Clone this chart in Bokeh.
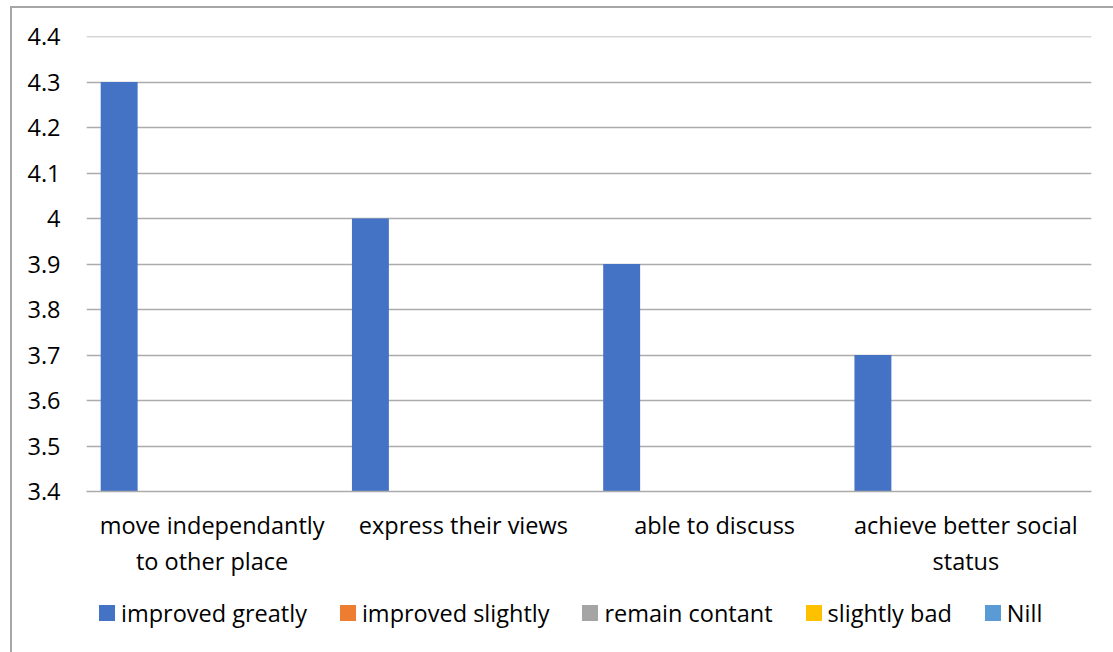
from bokeh.plotting import figure
from bokeh.models import (Range1d, FixedTicker, ColumnDataSource, LinearAxis, Span, Div)
from bokeh.layouts import column
from bokeh.transform import dodge
from bokeh.embed import file_html
from bokeh.resources import INLINE

# Survey categories and how each one changed
categories = [
    "move independantly to other place",
    "express their views",
    "able to discuss",
    "achieve better social status",
]
label_line1 = ["move independantly", "express their views", "able to discuss", "achieve better social"]
label_line2 = ["to other place", "", "", "status"]
series_names = ["improved greatly", "improved slightly", "remain contant", "slightly bad", "Nill"]
improved_greatly = [4.3, 4.0, 3.9, 3.7]
improved_slightly = [0, 0, 0, 0]
remain_contant = [0, 0, 0, 0]
slightly_bad = [0, 0, 0, 0]
nill = [0, 0, 0, 0]
series_colors = ["#4472C4", "#ED7D31", "#A5A5A5", "#FFC000", "#5B9BD5"]

y_ticks = [3.4, 3.5, 3.6, 3.7, 3.8, 3.9, 4.0, 4.1, 4.2, 4.3, 4.4]
y_tick_labels = ["3.4", "3.5", "3.6", "3.7", "3.8", "3.9", "4", "4.1", "4.2", "4.3", "4.4"]

FONT = "Open Sans"
FONT_SIZE = "23.5px"
GRID = "#ABABAB"

# category slots sit at 0.5, 1.5, ... on a 0..n axis
x_centers = [i + 0.5 for i in range(len(categories))]
data = dict(x=x_centers)
keys = ["s0", "s1", "s2", "s3", "s4"]
for k, vals in zip(keys, [improved_greatly, improved_slightly, remain_contant, slightly_bad, nill]):
    data[k] = vals
source = ColumnDataSource(data)

p = figure(
    frame_width=1005, frame_height=455,
    x_range=Range1d(0, len(categories)),
    y_range=Range1d(3.4, 4.4),
    output_backend="svg", toolbar_location=None,
    min_border_left=74, min_border_top=28, min_border_right=20, min_border_bottom=100,
)
p.outline_line_color = None

offsets = [-0.37, -0.185, 0.0, 0.185, 0.37]
for k, off, col in zip(keys, offsets, series_colors):
    p.vbar(x=dodge("x", off), top=k, bottom=0, width=0.147,
           source=source, fill_color=col, line_color=None)

# y axis
p.yaxis.ticker = FixedTicker(ticks=y_ticks)
p.yaxis.major_label_overrides = dict(zip(y_ticks, y_tick_labels))
p.yaxis.axis_line_color = None
p.yaxis.major_tick_line_color = None
p.yaxis.major_tick_out = 0
p.yaxis.major_tick_in = 0
p.yaxis.minor_tick_line_color = None
p.yaxis.major_label_standoff = 26
p.yaxis.major_label_text_font = FONT
p.yaxis.major_label_text_font_size = FONT_SIZE
p.yaxis.major_label_text_color = "#000000"

# x axis: first line of each category label
p.xaxis.ticker = FixedTicker(ticks=x_centers)
p.xaxis.major_label_overrides = dict(zip(x_centers, label_line1))
p.xaxis.axis_line_color = GRID
p.xaxis.axis_line_width = 1.5
p.xaxis.major_tick_line_color = None
p.xaxis.major_tick_out = 0
p.xaxis.major_tick_in = 0
p.xaxis.minor_tick_line_color = None
p.xaxis.major_label_standoff = 17
p.xaxis.major_label_text_font = FONT
p.xaxis.major_label_text_font_size = FONT_SIZE
p.xaxis.major_label_text_color = "#000000"

# second line of the wrapped category labels
axis2 = LinearAxis(
    ticker=FixedTicker(ticks=x_centers),
    major_label_overrides=dict(zip(x_centers, label_line2)),
    axis_line_color=None, major_tick_line_color=None, minor_tick_line_color=None,
    major_tick_out=0, major_tick_in=0,
    major_label_standoff=1, major_label_text_font=FONT,
    major_label_text_font_size=FONT_SIZE, major_label_text_color="#000000",
)
p.add_layout(axis2, "below")

p.xgrid.grid_line_color = None
p.ygrid.ticker = FixedTicker(ticks=y_ticks)
p.ygrid.grid_line_color = GRID
p.ygrid.grid_line_width = 1.5
# top gridline at the range end
p.add_layout(Span(location=y_ticks[-1], dimension="width", line_color=GRID, line_width=1.5))

# series key laid out in one row under the chart
key_items = "".join(
    f'<span style="display:inline-flex;align-items:center;margin-right:33px;">'
    f'<span style="display:inline-block;width:16px;height:16px;background:{c};margin-right:6px;"></span>'
    f'{name}</span>'
    for name, c in zip(series_names, series_colors)
)
key = Div(
    text=key_items, width=1103, height=59,
    styles={"font-family": FONT, "font-size": FONT_SIZE, "color": "#000000",
            "line-height": "32px", "padding-left": "82px", "white-space": "nowrap"},
)

page = column(p, key, spacing=0, margin=(6, 0, 0, 10),
              styles={"border-left": "2px solid #A6A6A6", "border-top": "2px solid #A6A6A6"})

open("out.html", "w").write(file_html(page, INLINE))
